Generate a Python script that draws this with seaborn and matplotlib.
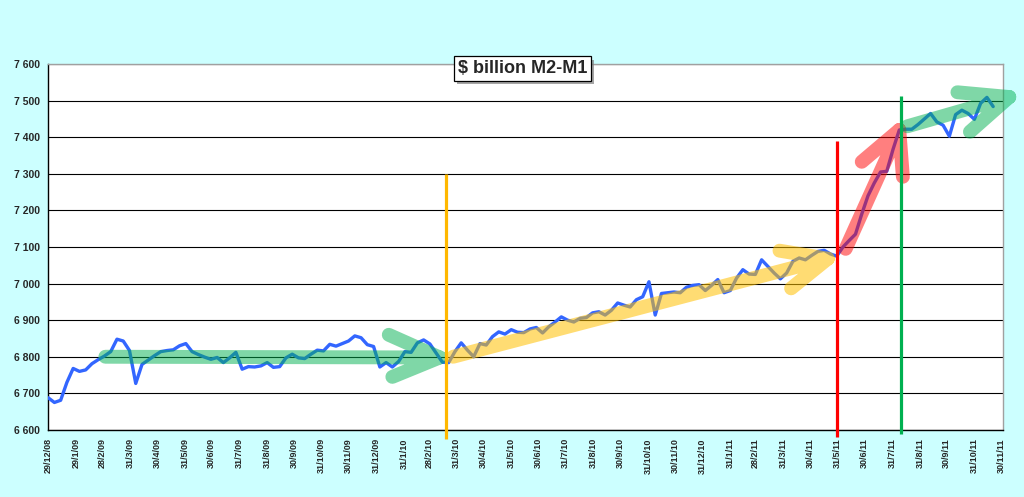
import numpy as np
import pandas as pd
import matplotlib
matplotlib.use("Agg")
import matplotlib.pyplot as plt
import matplotlib.dates as mdates
import matplotlib.patheffects as pe
import seaborn as sns

# weekly M2-M1, $ billion, first week 29/12/08
start_date = "2008-12-29"
m2_minus_m1 = [
    6688, 6675, 6681, 6730, 6768, 6760, 6764, 6781, 6792, 6802,
    6814, 6848, 6843, 6817, 6727, 6779, 6791, 6803, 6814, 6817,
    6819, 6830, 6836, 6814, 6806, 6799, 6793, 6798, 6784, 6797,
    6812, 6766, 6773, 6772, 6775, 6784, 6771, 6773, 6797, 6807,
    6797, 6795, 6807, 6818, 6816, 6834, 6829, 6836, 6843, 6857,
    6852, 6833, 6828, 6772, 6784, 6772, 6787, 6814, 6812, 6838,
    6846, 6835, 6810, 6785, 6784, 6814, 6838, 6818, 6800, 6836,
    6832, 6855, 6868, 6862, 6874, 6867, 6866, 6876, 6880, 6865,
    6882, 6895, 6909, 6900, 6895, 6905, 6907, 6920, 6923, 6914,
    6927, 6947, 6941, 6936, 6956, 6964, 7005, 6914, 6973, 6975,
    6977, 6975, 6990, 6995, 6997, 6981, 6995, 7011, 6975, 6981,
    7015, 7038, 7026, 7025, 7065, 7047, 7029, 7013, 7029, 7061,
    7070, 7065, 7077, 7088, 7091, 7081, 7075, 7100, 7118, 7135,
    7190, 7240, 7275, 7305, 7307, 7367, 7420, 7422, 7422, 7435,
    7450, 7465, 7442, 7433, 7403, 7462, 7474, 7465, 7449, 7493,
    7509, 7484,
]

tick_labels = [
    "29/12/08", "29/1/09", "28/2/09", "31/3/09", "30/4/09", "31/5/09",
    "30/6/09", "31/7/09", "31/8/09", "30/9/09", "31/10/09", "30/11/09",
    "31/12/09", "31/1/10", "28/2/10", "31/3/10", "30/4/10", "31/5/10",
    "30/6/10", "31/7/10", "31/8/10", "30/9/10", "31/10/10", "30/11/10",
    "31/12/10", "31/1/11", "28/2/11", "31/3/11", "30/4/11", "31/5/11",
    "30/6/11", "31/7/11", "31/8/11", "30/9/11", "31/10/11", "30/11/11",
]
y_ticks = list(range(6600, 7700, 100))

# hand-drawn markers: vertical lines (date, top, bottom, colour)
v_lines = [
    ("2010-03-19", 7300, 6575, "#FFB800"),
    ("2011-05-30", 7390, 6580, "#FF0000"),
    ("2011-08-10", 7512, 6590, "#00B050"),
]

# hand-drawn arrows: shaft start, tip, two arm starts (date, value)
arrows = [
    dict(start=("2009-03-03", 6800), tip=("2010-03-12", 6798),
         arms=[("2010-01-14", 6860), ("2010-01-18", 6745)], color="#00B050", alpha=0.5),
    dict(start=("2010-03-27", 6800), tip=("2011-05-20", 7068),
         arms=[("2011-03-27", 7090), ("2011-04-09", 6987)], color="#FFC000", alpha=0.55),
    dict(start=("2011-06-09", 7095), tip=("2011-08-08", 7420),
         arms=[("2011-06-27", 7333), ("2011-08-12", 7292)], color="#FF0000", alpha=0.5),
    dict(start=("2011-08-17", 7430), tip=("2011-12-09", 7510),
         arms=[("2011-10-12", 7523), ("2011-10-26", 7415)], color="#00B050", alpha=0.5),
]

df = pd.DataFrame({
    "week": pd.date_range(start_date, periods=len(m2_minus_m1), freq="7D"),
    "value": m2_minus_m1,
})
tick_dates = pd.to_datetime(tick_labels, format="%d/%m/%y")


def dnum(d):
    return mdates.date2num(pd.Timestamp(d).to_pydatetime())


sns.set_style("white")
plt.rcParams["font.family"] = ["Liberation Sans", "DejaVu Sans"]

fig = plt.figure(figsize=(10.24, 4.97), dpi=100, facecolor="#CCFFFF")
ax = fig.add_axes([0.047, 0.135, 0.9325, 0.736])
ax.set_facecolor("white")

ax.yaxis.grid(True, color="black", linewidth=0.8)
ax.xaxis.grid(False)
ax.set_axisbelow(True)

sns.lineplot(data=df, x="week", y="value", color="#3366FF", linewidth=2.4, ax=ax, zorder=3)

for a in arrows:
    pts = [a["start"], a["tip"], None, a["arms"][0], a["tip"], a["arms"][1]]
    xs = [dnum(p[0]) if p else np.nan for p in pts]
    ys = [p[1] if p else np.nan for p in pts]
    ax.plot(xs, ys, color=a["color"], alpha=a["alpha"], linewidth=10,
            solid_capstyle="round", solid_joinstyle="round", zorder=4, clip_on=False)

for d, top, bottom, c in v_lines:
    ax.plot([dnum(d)] * 2, [bottom, top], color=c, linewidth=2.3,
            zorder=5, clip_on=False, solid_capstyle="butt")

ax.set_ylim(6600, 7600)
ax.set_xlim(dnum("2008-12-29"), dnum("2011-12-02"))
ax.set_yticks(y_ticks)
ax.set_yticklabels([f"{v:,}".replace(",", " ") for v in y_ticks],
                   fontsize=7.5, fontweight="bold")
ax.set_xticks([dnum(d) for d in tick_dates])
ax.set_xticklabels(tick_labels, rotation=90, fontsize=6.5, fontweight="bold")
ax.tick_params(axis="both", direction="out", length=4, width=0.8, color="black", pad=2)
ax.set_xlabel("")
ax.set_ylabel("")

for side in ["left", "bottom"]:
    ax.spines[side].set_color("black")
    ax.spines[side].set_linewidth(1)
for side in ["top", "right"]:
    ax.spines[side].set_color("#A0A0A0")
    ax.spines[side].set_linewidth(1)

title = fig.text(0.51, 0.862, "$ billion M2-M1", ha="center", va="center",
                 fontsize=13, fontweight="bold",
                 bbox=dict(boxstyle="square,pad=0.2", fc="white", ec="black", lw=0.9))
title.get_bbox_patch().set_path_effects(
    [pe.withSimplePatchShadow(offset=(2.5, -2.5), shadow_rgbFace="#808080", alpha=0.7)])

fig.savefig("out.png", dpi=100, facecolor=fig.get_facecolor())
